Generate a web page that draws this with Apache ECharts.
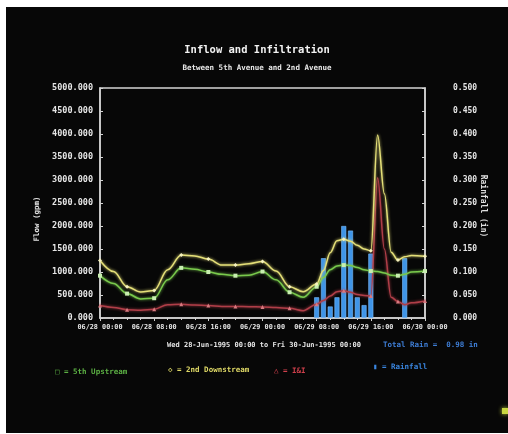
<!DOCTYPE html>
<html>
<head>
<meta charset="utf-8">
<script src="https://cdn.jsdelivr.net/npm/echarts@6/dist/echarts.min.js"></script>
<style>
  html, body { margin: 0; padding: 0; background: #ffffff; }
  #chart { position: absolute; left: 6px; top: 7px; width: 502px; height: 426px; background: #070707; }
</style>
</head>
<body>
<div id="chart"></div>
<script>
// Sample times in hours from Wed 28-Jun 00:00
const hours = [0, 2, 4, 6, 8, 10, 12, 14, 16, 18, 20, 22, 24, 26, 28, 30, 32, 33, 34, 35, 36, 37, 38, 39, 40, 41, 42, 43, 44, 45, 46, 48];
// Flow in gpm
const upstream5th = [920, 750, 530, 415, 430, 830, 1090, 1060, 1000, 950, 920, 930, 1010, 830, 560, 450, 680, 880, 1050, 1130, 1150, 1140, 1100, 1050, 1020, 1010, 980, 930, 920, 950, 1000, 1020];
const downstream2nd = [1250, 1010, 680, 565, 600, 1050, 1370, 1350, 1280, 1150, 1150, 1180, 1230, 1020, 680, 570, 740, 1030, 1420, 1680, 1710, 1670, 1580, 1500, 1460, 3980, 2700, 1430, 1260, 1330, 1360, 1340];
const inflowInfil = [270, 230, 180, 170, 190, 290, 300, 280, 270, 250, 250, 245, 240, 230, 210, 160, 300, 380, 480, 570, 590, 560, 510, 490, 480, 3050, 1500, 450, 360, 290, 330, 370];
// Hourly rainfall in inches
const rainHours = [32, 33, 34, 35, 36, 37, 38, 39, 40, 45];
const rainfall = [0.045, 0.13, 0.025, 0.045, 0.2, 0.19, 0.045, 0.028, 0.14, 0.13];
// Axis tick labels
const xTickLabels = ['06/28 00:00', '06/28 08:00', '06/28 16:00', '06/29 00:00', '06/29 08:00', '06/29 16:00', '06/30 00:00'];

const FONT = '"DejaVu Sans Mono", monospace';
const AXIS_COLOR = '#d4d4d4';
const totalRain = rainfall.reduce((a, b) => a + b, 0);

// Markers on every 4th hour, plain line elsewhere
function lineData(values, symbol) {
  return hours.map((h, i) => {
    const item = { value: [h, values[i]] };
    item.symbol = (h % 4 === 0) ? symbol : 'none';
    return item;
  });
}

function flowSeries(name, values, color, symbol, markColor) {
  return {
    name: name,
    type: 'line',
    yAxisIndex: 0,
    data: lineData(values, symbol),
    smooth: 0.35,
    smoothMonotone: 'x',
    showSymbol: true,
    showAllSymbol: true,
    symbolSize: 4,
    lineStyle: { color: color, width: 1.5, shadowColor: color, shadowBlur: 3 },
    itemStyle: { color: markColor, borderWidth: 0 },
    z: 3,
    silent: true
  };
}

const chart = echarts.init(document.getElementById('chart'), null, { renderer: 'canvas' });

chart.setOption({
  backgroundColor: '#070707',
  animation: false,
  grid: {
    left: 94, right: 83, top: 81, bottom: 115,
    show: true, borderColor: AXIS_COLOR, borderWidth: 1.5, backgroundColor: 'transparent'
  },
  xAxis: {
    type: 'value',
    min: 0, max: 48, interval: 8,
    axisLine: { show: true, lineStyle: { color: AXIS_COLOR, width: 1.5 } },
    axisTick: { show: true, length: 3, lineStyle: { color: AXIS_COLOR } },
    minorTick: { show: true, splitNumber: 4, length: 2, lineStyle: { color: AXIS_COLOR } },
    splitLine: { show: false },
    axisLabel: {
      color: '#e6e6e6', fontFamily: FONT, fontWeight: 'bold', fontSize: 6.8, margin: 6,
      formatter: v => xTickLabels[Math.round(v / 8)] || ''
    }
  },
  yAxis: [
    {
      type: 'value',
      min: 0, max: 5000, interval: 500,
      axisLine: { show: true, lineStyle: { color: AXIS_COLOR, width: 1.5 } },
      axisTick: { show: true, inside: true, length: 3, lineStyle: { color: AXIS_COLOR } },
      splitLine: { show: false },
      axisLabel: {
        color: '#e6e6e6', fontFamily: FONT, fontWeight: 'bold', fontSize: 8.5, margin: 7,
        formatter: v => v.toFixed(3)
      }
    },
    {
      type: 'value',
      min: 0, max: 0.5, interval: 0.05,
      position: 'right',
      axisLine: { show: true, lineStyle: { color: AXIS_COLOR, width: 1.5 } },
      axisTick: { show: true, inside: true, length: 3, lineStyle: { color: AXIS_COLOR } },
      splitLine: { show: false },
      axisLabel: {
        color: '#e6e6e6', fontFamily: FONT, fontWeight: 'bold', fontSize: 8, margin: 28,
        formatter: v => v.toFixed(3)
      }
    }
  ],
  series: [
    {
      name: 'Rainfall',
      type: 'bar',
      yAxisIndex: 1,
      data: rainHours.map((h, i) => [h, rainfall[i]]),
      barWidth: 5,
      itemStyle: { color: '#3f95e8', borderColor: '#7cc0ff', borderWidth: 0.6 },
      z: 2,
      silent: true
    },
    flowSeries('I&I', inflowInfil, '#b03e48', 'triangle', '#d87a80'),
    flowSeries('5th Upstream', upstream5th, '#79c94c', 'rect', '#c8eeb0'),
    flowSeries('2nd Downstream', downstream2nd, '#e4df78', 'diamond', '#f6f2c0')
  ],
  graphic: [
    { type: 'text', left: 'center', top: 38, style: { text: 'Inflow and Infiltration', fill: '#f2f2f2', font: 'bold 10.5px ' + FONT } },
    { type: 'text', left: 'center', top: 57, style: { text: 'Between 5th Avenue and 2nd Avenue', fill: '#e8e8e8', font: 'bold 7.5px ' + FONT } },
    { type: 'text', x: 31, y: 212, rotation: Math.PI / 2, style: { text: 'Flow (gpm)', fill: '#e0e0e0', font: 'bold 7.5px ' + FONT, align: 'center', verticalAlign: 'middle' } },
    { type: 'text', x: 477, y: 199, rotation: -Math.PI / 2, style: { text: 'Rainfall (in)', fill: '#e0e0e0', font: 'bold 8px ' + FONT, align: 'center', verticalAlign: 'middle' } },
    { type: 'text', x: 258, y: 338, style: { text: 'Wed 28-Jun-1995 00:00 to Fri 30-Jun-1995 00:00', fill: '#e6e6e6', font: 'bold 7px ' + FONT, align: 'center', verticalAlign: 'middle' } },
    { type: 'text', x: 377, y: 338, style: { text: 'Total Rain =  ' + totalRain.toFixed(2) + ' in', fill: '#3f7fd8', font: 'bold 7.5px ' + FONT, verticalAlign: 'middle' } },
    { type: 'text', x: 49, y: 365, style: { text: '\u25A1 = 5th Upstream', fill: '#5cb044', font: 'bold 7.5px ' + FONT, verticalAlign: 'middle' } },
    { type: 'text', x: 162, y: 363, style: { text: '\u25C7 = 2nd Downstream', fill: '#ded866', font: 'bold 7.5px ' + FONT, verticalAlign: 'middle' } },
    { type: 'text', x: 268, y: 364, style: { text: '\u25B3 = I&I', fill: '#d0404c', font: 'bold 7.5px ' + FONT, verticalAlign: 'middle' } },
    { type: 'text', x: 367, y: 360, style: { text: '\u25AE = Rainfall', fill: '#3a86e0', font: 'bold 7.5px ' + FONT, verticalAlign: 'middle' } },
    { type: 'rect', shape: { x: 496, y: 401, width: 6, height: 6 }, style: { fill: '#c9d640', shadowColor: '#c9d640', shadowBlur: 4 } }
  ]
});
</script>
</body>
</html>
